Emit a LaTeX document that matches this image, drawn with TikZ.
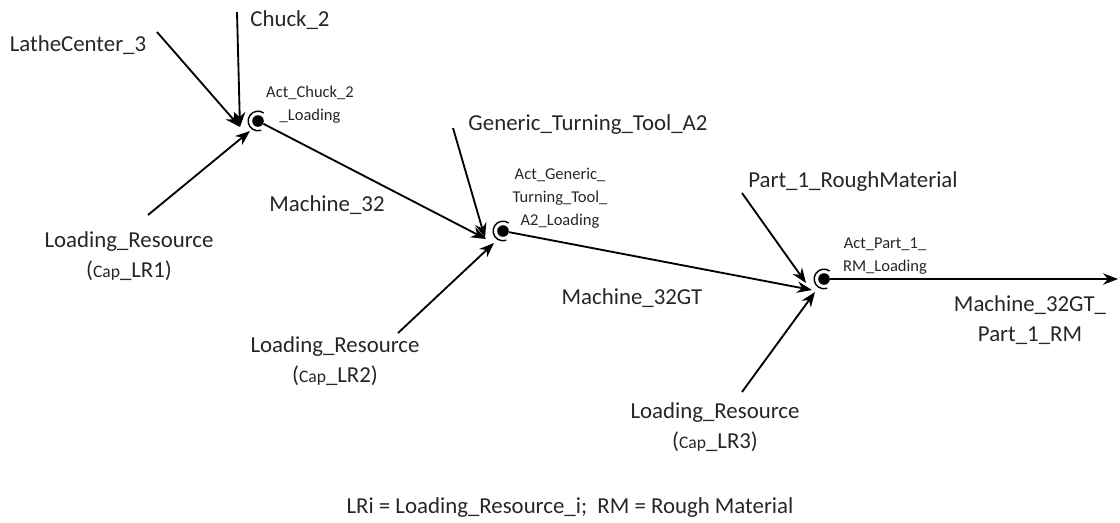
\documentclass[tikz,border=0pt]{standalone}
\usepackage{fontspec}
\setmainfont{Carlito}
\usetikzlibrary{arrows.meta}
\begin{document}
\begin{tikzpicture}[x=0.02cm,y=-0.02cm,
  lbl/.style={font=\fontsize{13}{17}\selectfont, text=black!85, align=center, inner sep=0pt},
  sml/.style={font=\fontsize{9.4}{13}\selectfont, text=black!85, align=center, inner sep=0pt},
  dot/.style={circle, fill=black, inner sep=0pt, minimum size=6.6pt},
  arr/.style={-{Stealth[length=8.5pt,width=6.5pt]}, line width=1.05pt, black}]
\useasboundingbox (0,0) rectangle (1120,522);
% transitions
\node[dot] (t1) at (258,121) {};
\node[dot] (t2) at (503,231) {};
\node[dot] (t3) at (824,279) {};
\foreach \t in {t1,t2,t3}{\draw[line width=0.8pt] ([shift={(55:5.6pt)}]\t.center) arc[start angle=55,end angle=290,radius=5.6pt];}
% arrow end points
\coordinate (t1a) at (240,127);
\coordinate (t1b) at (250,131);
\coordinate (t2a) at (485,238);
\coordinate (t2b) at (494,243);
\coordinate (t2c) at (486,239);
\coordinate (t3a) at (806,283);
\coordinate (t3b) at (815,292);
\coordinate (t3c) at (812,290);
\coordinate (endp) at (1118,279);
% sources
\coordinate (s1) at (157,32);
\coordinate (s2) at (237,12);
\coordinate (s3) at (148,215);
\coordinate (s4) at (453,128);
\coordinate (s5) at (398,333);
\coordinate (s6) at (742,193);
\coordinate (s7) at (742,392);
\draw[arr] (s1) -- (t1a);
\draw[arr] (s2) -- (t1a);
\draw[arr] (s3) -- (t1b);
\draw[arr] (t1) -- (t2c);
\draw[arr] (s4) -- (t2a);
\draw[arr] (s5) -- (t2b);
\draw[arr] (t2) -- (t3c);
\draw[arr] (s6) -- (t3a);
\draw[arr] (s7) -- (t3b);
\draw[arr] (t3) -- (endp);
% labels
\node[lbl] (l1) at (78,45) {LatheCenter\_3};
\node[lbl] (l2) at (290,20) {Chuck\_2};
\node[sml] (a1) at (310,105) {Act\_Chuck\_2\\\_Loading};
\node[lbl] (l3) at (129,256) {Loading\_Resource\\({\fontsize{10}{12}\selectfont Cap}\_LR1)};
\node[lbl] (m1) at (327,205) {Machine\_32};
\node[lbl] (l4) at (588,125) {Generic\_Turning\_Tool\_A2};
\node[sml] (a2) at (560,198) {Act\_Generic\_\\Turning\_Tool\_\\A2\_Loading};
\node[lbl] (l5) at (335,361) {Loading\_Resource\\({\fontsize{10}{12}\selectfont Cap}\_LR2)};
\node[lbl] (m2) at (632,298) {Machine\_32GT};
\node[lbl] (l6) at (853,182) {Part\_1\_RoughMaterial};
\node[sml] (a3) at (885,256) {Act\_Part\_1\_\\RM\_Loading};
\node[lbl] (m3) at (1030,320) {Machine\_32GT\_\\Part\_1\_RM};
\node[lbl] (l7) at (715,427) {Loading\_Resource\\({\fontsize{10}{12}\selectfont Cap}\_LR3)};
\node[lbl] (note) at (570,508) {LRi = Loading\_Resource\_i;\ \ RM = Rough Material};
\end{tikzpicture}
\end{document}
